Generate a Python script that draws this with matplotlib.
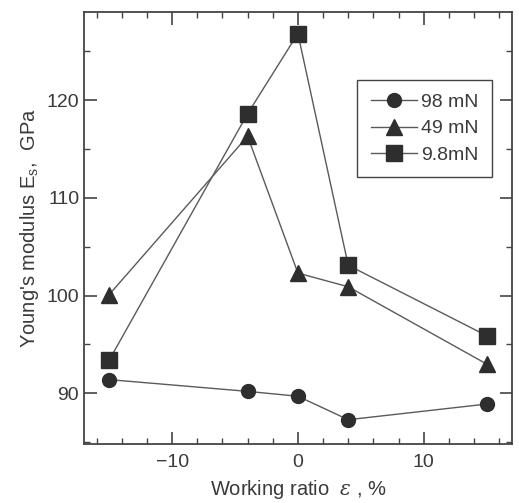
import matplotlib
matplotlib.use('Agg')

import matplotlib.pyplot as plt
from matplotlib.ticker import MultipleLocator

plt.rcParams['font.family'] = ['Liberation Sans', 'DejaVu Sans']
plt.rcParams['mathtext.fontset'] = 'dejavuserif'

# data
working_ratio = [-15, -4, 0, 4, 15]
e_98mN = [91.4, 90.2, 89.7, 87.3, 88.9]
e_49mN = [100.1, 116.3, 102.3, 100.9, 93.0]
e_9_8mN = [93.4, 118.6, 126.8, 103.1, 95.9]
labels = ['98 mN', '49 mN', '9.8mN']

text_c = '#3a3a3a'
line_c = '#5a5a5a'
mark_c = '#2e2e2e'

fig = plt.figure(figsize=(5.19, 5.03), dpi=100)
ax = fig.add_axes([0.162, 0.117, 0.824, 0.859])

series = [(e_98mN, 'o', 10), (e_49mN, '^', 12), (e_9_8mN, 's', 11)]
for (ys, m, ms), lab in zip(series, labels):
    ax.plot(working_ratio, ys, color=line_c, lw=1.0, marker=m, ms=ms,
            mfc=mark_c, mec=mark_c, label=lab)

ax.set_xlim(-17, 17)
ax.set_ylim(84.8, 129)
ax.xaxis.set_major_locator(MultipleLocator(10))
ax.xaxis.set_minor_locator(MultipleLocator(2))
ax.yaxis.set_major_locator(MultipleLocator(10))
ax.yaxis.set_minor_locator(MultipleLocator(5))
ax.tick_params(which='both', direction='in', top=True, right=True,
               colors='#444444', labelcolor=text_c, labelsize=14)
ax.tick_params(which='major', length=9, width=1.2)
ax.tick_params(which='minor', length=4, width=1.0)
ax.tick_params(axis='x', pad=7)
for sp in ax.spines.values():
    sp.set_color('#444444')
    sp.set_linewidth(1.3)

ax.set_xlabel(r"Working ratio  $\varepsilon$ , %", fontsize=14.5, color=text_c, labelpad=5)
ax.set_ylabel(r"Young's modulus E$_{\mathrm{s}}$,  GPa", fontsize=14.5, color=text_c, labelpad=4)

leg = ax.legend(loc='upper right', bbox_to_anchor=(0.955, 0.843), fontsize=14,
                fancybox=False, framealpha=1, edgecolor='#444444',
                handlelength=2.4, handletextpad=0.2, labelspacing=0.45,
                borderpad=0.7, borderaxespad=0)
leg.get_frame().set_linewidth(1.0)
for t in leg.get_texts():
    t.set_color(text_c)

fig.savefig('out.png', dpi=100)
